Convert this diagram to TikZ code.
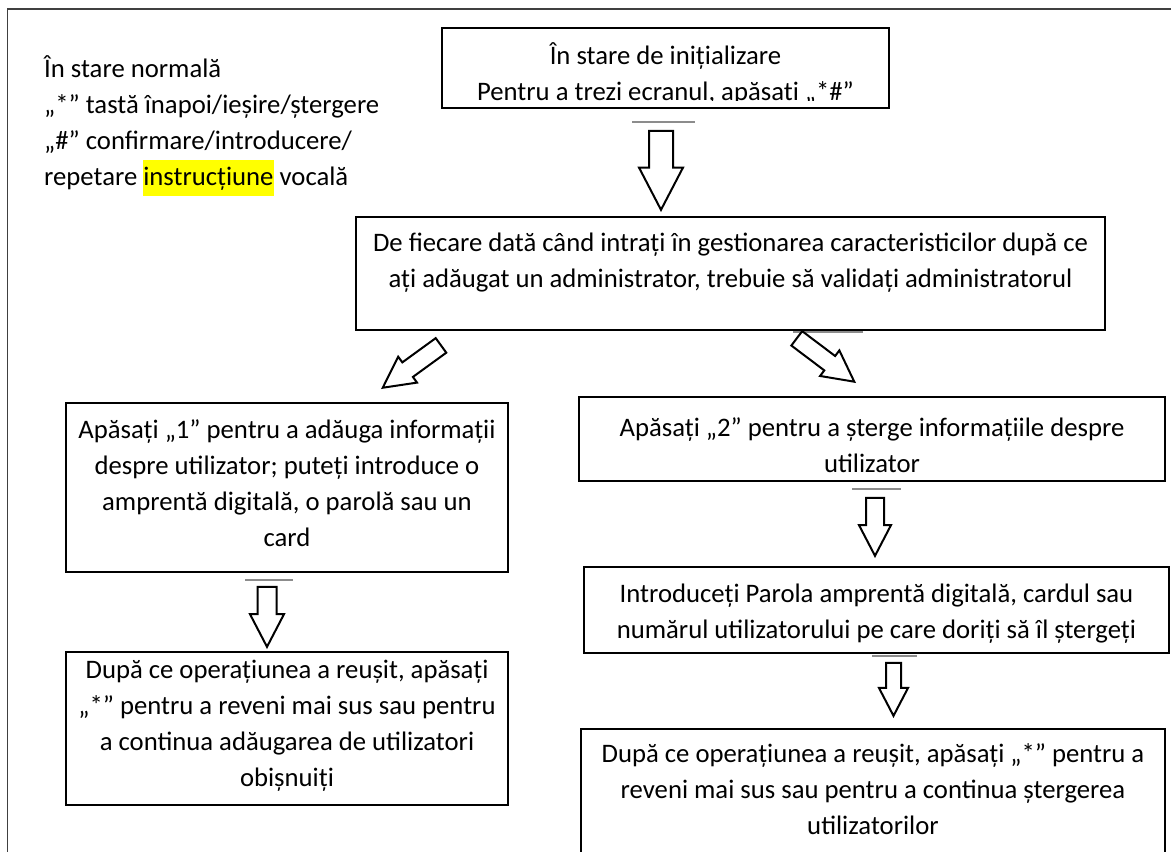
\documentclass[tikz,border=0pt]{standalone}
\usepackage{fontspec}
\setmainfont{Carlito}
\usetikzlibrary{shapes.arrows}
\definecolor{framegray}{RGB}{64,64,64}
\definecolor{stubgray}{RGB}{140,140,140}
\definecolor{hiliteyellow}{RGB}{255,255,0}
\tikzset{
  flowbox/.style={draw,line width=1.2pt,inner sep=0pt},
  flowtext/.style={align=center,inner sep=0pt,font=\fontsize{26.7}{36}\selectfont},
  blockarrow/.style={single arrow,draw,line width=2pt,fill=white,inner xsep=0pt,single arrow tip angle=55,anchor=tip},
  stub/.style={stubgray,line width=1.6pt}
}
\begin{document}
\begin{tikzpicture}[x=1pt,y=-1pt]
  \clip (0,0) rectangle (1171,852);
  \draw[framegray,line width=1.5pt] (7.5,870)--(7.5,9)--(1180,9);
  \node[flowtext,align=left,anchor=west] (legend) at (44,126) {În stare normală\\„*” tastă înapoi/ieșire/ștergere\\„\#” confirmare/introducere/\\repetare {\setlength{\fboxsep}{0pt}\colorbox{hiliteyellow}{\strut instrucțiune}} vocală};
  % boxes
  \node[flowbox,minimum width=447,minimum height=80] (init) at (665.5,68) {};
  \begin{scope}
    \clip (442,28) rectangle (889,100);
    \node[flowtext] (initTxt) at (665.5,74.5) {În stare de inițializare\\Pentru a trezi ecranul, apăsați „*\#”};
  \end{scope}
  \node[flowbox,minimum width=749,minimum height=113] (check) at (730.5,273.5) {};
  \node[flowtext] (checkTxt) at (730.5,263) {De fiecare dată când intrați în gestionarea caracteristicilor după ce\\ați adăugat un administrator, trebuie să validați administratorul};
  \node[flowbox,minimum width=442,minimum height=169] (addUser) at (287,487.5) {};
  \node[flowtext] (addUserTxt) at (287,483.5) {Apăsați „1” pentru a adăuga informații\\despre utilizator; puteți introduce o\\amprentă digitală, o parolă sau un\\card};
  \node[flowbox,minimum width=442,minimum height=153] (addDone) at (287,728.5) {};
  \node[flowtext] (addDoneTxt) at (287,726) {După ce operațiunea a reușit, apăsați\\„*” pentru a reveni mai sus sau pentru\\a continua adăugarea de utilizatori\\obișnuiți};
  \node[flowbox,minimum width=586,minimum height=84] (delUser) at (872,439) {};
  \node[flowtext] (delUserTxt) at (872,445.5) {Apăsați „2” pentru a șterge informațiile despre\\utilizator};
  \node[flowbox,minimum width=585,minimum height=86] (delInput) at (876.5,610) {};
  \node[flowtext] (delInputTxt) at (876.5,613.5) {Introduceți Parola amprentă digitală, cardul sau\\numărul utilizatorului pe care doriți să îl ștergeți};
  \node[flowbox,minimum width=584,minimum height=171] (delDone) at (873,814.5) {};
  \node[flowtext] (delDoneTxt) at (873,789) {După ce operațiunea a reușit, apăsați „*” pentru a\\reveni mai sus sau pentru a continua ștergerea\\utilizatorilor};
  % grey stubs under the boxes
  \draw[stub] (632,122)--(695,122);
  \draw[stub] (793,332)--(863,332);
  \draw[stub] (245,580)--(293,580);
  \draw[stub] (852,489)--(901,489);
  \draw[stub] (872,656)--(917,656);
  % block arrows, placed by their tips
  \node[blockarrow,rotate=-90,minimum height=79,minimum width=42,single arrow head extend=10,inner ysep=11] (initArrow) at (661,212) {};
  \node[blockarrow,rotate=216,minimum height=72,minimum width=30,single arrow head extend=7,inner ysep=8] (addArrow) at (381,389) {};
  \node[blockarrow,rotate=-37,minimum height=72,minimum width=30,single arrow head extend=7,inner ysep=8] (delArrow) at (856,383) {};
  \node[blockarrow,rotate=-90,minimum height=60,minimum width=32,single arrow head extend=7.5,inner ysep=8.5] (addDoneArrow) at (267,649) {};
  \node[blockarrow,rotate=-90,minimum height=58,minimum width=30,single arrow head extend=7,inner ysep=8] (delInputArrow) at (875,558) {};
  \node[blockarrow,rotate=-90,minimum height=53,minimum width=27,single arrow head extend=7,inner ysep=6.5] (delDoneArrow) at (893.5,718) {};
\end{tikzpicture}
\end{document}
